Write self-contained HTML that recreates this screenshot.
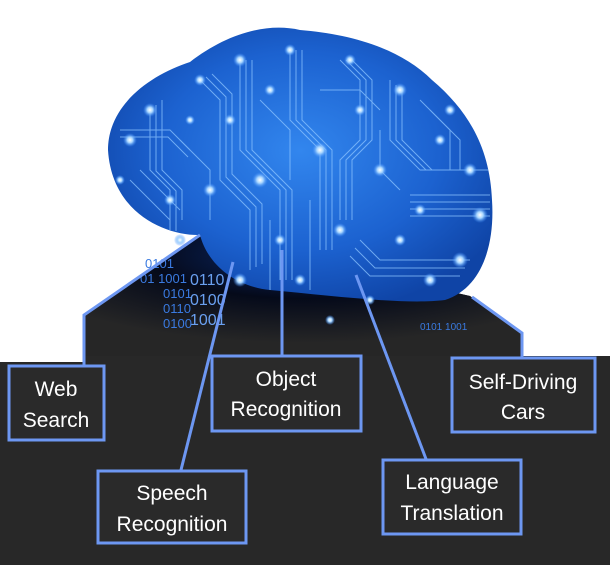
<!DOCTYPE html>
<html><head><meta charset="utf-8"><style>
html,body{margin:0;padding:0;background:#fff}
svg{display:block}
text{font-family:"Liberation Sans",sans-serif}
</style></head><body>
<svg width="610" height="565" viewBox="0 0 610 565" xmlns="http://www.w3.org/2000/svg">
<defs>
<radialGradient id="bg" cx="0.5" cy="0.45" r="0.6">
<stop offset="0" stop-color="#3286ee"/><stop offset="0.6" stop-color="#1c62d0"/><stop offset="1" stop-color="#0f44a6"/>
</radialGradient>
<radialGradient id="glow" cx="0.5" cy="0.15" r="0.7">
<stop offset="0" stop-color="#0a2a70"/><stop offset="0.5" stop-color="#050a1a"/><stop offset="1" stop-color="#262626"/>
</radialGradient>
<radialGradient id="dot"><stop offset="0" stop-color="#fff"/><stop offset="0.4" stop-color="#a8d6ff"/><stop offset="1" stop-color="#3a8cff" stop-opacity="0"/></radialGradient>
<clipPath id="bc"><path d="M108,150 C108,105 150,75 190,62 C225,35 265,22 300,30 C350,34 400,48 432,80 C470,112 490,150 492,200 C495,245 482,288 445,300 C405,305 335,296 270,290 C232,286 207,262 200,235 C168,236 112,215 108,150 Z"/></clipPath>
</defs>
<polygon points="0,362 84,362 84,315 200,235 470,296 522,333 522,356 610,356 610,565 0,565" fill="#282828"/>
<polygon points="84,362 84,315 200,235 470,296 522,333 522,356 84,356" fill="url(#glow)"/>
<g fill="#3a7ae0" font-size="13">
<text x="145" y="268">0101</text><text x="140" y="283">01 1001</text>
<text x="163" y="298">0101</text><text x="190" y="285" font-size="16" fill="#6aa0f0">0110</text>
<text x="163" y="313">0110</text><text x="190" y="305" font-size="16" fill="#6aa0f0">0100</text>
<text x="163" y="328">0100</text><text x="190" y="325" font-size="16" fill="#6aa0f0">1001</text>
<text x="420" y="330" font-size="10">0101 1001</text>
</g>
<path d="M108,150 C108,105 150,75 190,62 C225,35 265,22 300,30 C350,34 400,48 432,80 C470,112 490,150 492,200 C495,245 482,288 445,300 C405,305 335,296 270,290 C232,286 207,262 200,235 C168,236 112,215 108,150 Z" fill="url(#bg)"/>
<g clip-path="url(#bc)" stroke="#8cc4ff" stroke-width="1" fill="none" opacity="0.75">
<path d="M150,110 v60 l20,20 v40"/><path d="M156,105 v66 l20,20 v40"/><path d="M162,100 v70 l20,20 v30"/>
<path d="M200,80 l20,20 v80 l30,30 v60"/><path d="M206,77 l20,20 v80 l30,30 v60"/><path d="M212,74 l20,20 v80 l30,30 v60"/>
<path d="M240,60 v90 l40,40 v90"/><path d="M246,60 v90 l40,40 v90"/><path d="M252,60 v90 l40,40 v90"/>
<path d="M290,50 v70 l30,30 v100"/><path d="M296,50 v70 l30,30 v100"/><path d="M302,50 v70 l30,30 v100"/>
<path d="M340,60 l20,20 v60 l-20,20 v60"/><path d="M346,60 l20,20 v60 l-20,20 v60"/><path d="M352,60 l20,20 v60 l-20,20 v60"/>
<path d="M390,80 v60 l30,30 h60"/><path d="M396,85 v55 l30,30 h60"/><path d="M402,90 v50 l30,30 h60"/>
<path d="M410,195 h80"/><path d="M410,202 h80"/><path d="M410,209 h80"/><path d="M410,216 h80"/>
<path d="M360,240 l20,20 h90"/><path d="M355,248 l20,20 h90"/><path d="M350,256 l20,20 h90"/>
<path d="M120,130 h50 l20,20"/><path d="M120,137 h48 l20,20"/>
<path d="M260,100 l30,30 v50"/><path d="M320,90 h40 l20,20"/><path d="M180,140 l30,30 v50"/>
<path d="M420,100 l30,30 v40"/><path d="M430,110 l30,30 v30"/><path d="M130,180 l40,40"/><path d="M140,170 l40,40"/>
<path d="M270,220 v70"/><path d="M310,200 v90"/><path d="M380,130 v40 l20,20"/>
</g>
<g fill="url(#dot)">
<circle cx="150" cy="110" r="7"/><circle cx="200" cy="80" r="6"/><circle cx="240" cy="60" r="7"/><circle cx="290" cy="50" r="6"/>
<circle cx="350" cy="60" r="6"/><circle cx="400" cy="90" r="7"/><circle cx="470" cy="170" r="7"/><circle cx="480" cy="215" r="8"/>
<circle cx="460" cy="260" r="8"/><circle cx="430" cy="280" r="7"/><circle cx="320" cy="150" r="8"/><circle cx="260" cy="180" r="8"/>
<circle cx="210" cy="190" r="7"/><circle cx="130" cy="140" r="7"/><circle cx="180" cy="240" r="6"/><circle cx="240" cy="280" r="7"/>
<circle cx="300" cy="280" r="6"/><circle cx="340" cy="230" r="7"/><circle cx="380" cy="170" r="7"/><circle cx="170" cy="200" r="6"/>
<circle cx="230" cy="120" r="6"/><circle cx="360" cy="110" r="6"/><circle cx="440" cy="140" r="6"/><circle cx="120" cy="180" r="5"/>
<circle cx="280" cy="240" r="6"/><circle cx="400" cy="240" r="6"/><circle cx="370" cy="300" r="5"/><circle cx="330" cy="320" r="5"/>
<circle cx="270" cy="90" r="6"/><circle cx="420" cy="210" r="6"/><circle cx="190" cy="120" r="5"/><circle cx="450" cy="110" r="6"/>
</g>
<g stroke="#6d97f2" stroke-width="3" fill="none">
<polyline points="84,366 84,315 200,235"/>
<line x1="181" y1="470" x2="233" y2="262"/>
<line x1="282" y1="357" x2="282" y2="250"/>
<line x1="426" y1="459" x2="356" y2="275"/>
<polyline points="522,358 522,333 472,297"/>
</g>
<g stroke="#6d97f2" stroke-width="3" fill="#2a2a2a">
<rect x="9" y="366" width="95" height="74"/>
<rect x="212" y="356" width="149" height="75"/>
<rect x="452" y="358" width="143" height="74"/>
<rect x="98" y="471" width="148" height="72"/>
<rect x="383" y="460" width="138" height="74"/>
</g>
<g fill="#fff" font-size="21" text-anchor="middle">
<text x="56" y="396">Web</text><text x="56" y="427">Search</text>
<text x="286" y="386">Object</text><text x="286" y="416">Recognition</text>
<text x="523" y="389">Self-Driving</text><text x="523" y="419">Cars</text>
<text x="172" y="500">Speech</text><text x="172" y="531">Recognition</text>
<text x="452" y="489">Language</text><text x="452" y="520">Translation</text>
</g>
</svg>
</body></html>
